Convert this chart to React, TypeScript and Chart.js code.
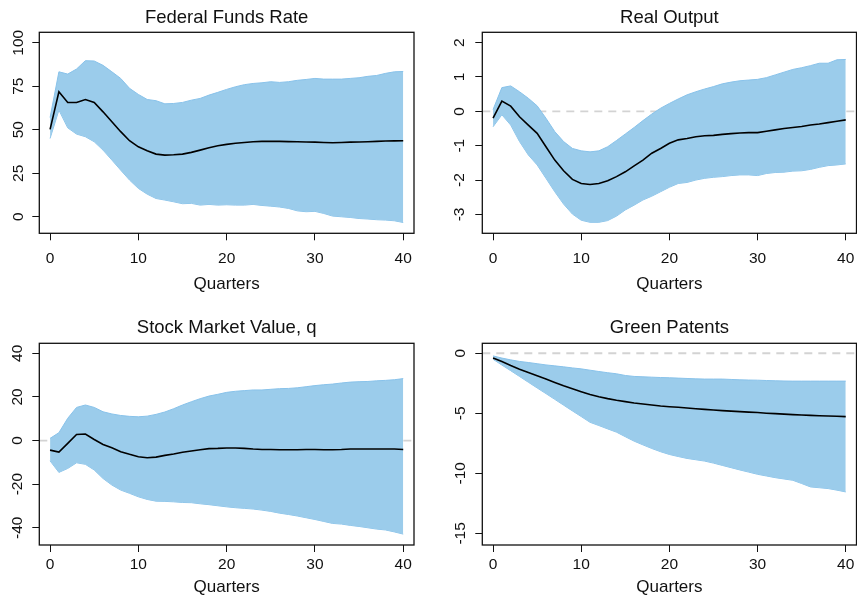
import React, { useEffect, useRef } from "react";
import { Chart, registerables } from "chart.js";

Chart.register(...registerables);

const QUARTERS = [0, 1, 2, 3, 4, 5, 6, 7, 8, 9, 10, 11, 12, 13, 14, 15, 16, 17, 18, 19, 20, 21, 22, 23, 24, 25, 26, 27, 28, 29, 30, 31, 32, 33, 34, 35, 36, 37, 38, 39, 40];
const X_TICKS = [0, 10, 20, 30, 40];

const FFR_MEDIAN = [50.2, 71.8, 65.7, 65.7, 67.4, 65.7, 60.3, 54.6, 48.9, 43.7, 40.2, 37.9, 36.0, 35.4, 35.6, 36.0, 37.0, 38.3, 39.7, 40.8, 41.6, 42.2, 42.7, 43.1, 43.3, 43.3, 43.3, 43.2, 43.1, 43.0, 42.9, 42.7, 42.5, 42.7, 42.9, 43.0, 43.1, 43.3, 43.5, 43.6, 43.7];
const FFR_UPPER = [57.0, 83.3, 82.0, 84.9, 89.7, 89.5, 87.0, 83.3, 79.5, 73.8, 70.3, 67.4, 66.7, 64.9, 65.1, 65.7, 67.0, 68.0, 69.9, 71.5, 73.2, 74.7, 75.9, 76.6, 77.0, 77.6, 77.2, 77.6, 78.4, 78.9, 79.5, 79.1, 79.1, 79.1, 79.5, 79.9, 80.7, 81.2, 82.4, 83.3, 83.5];
const FFR_LOWER = [45.0, 61.3, 51.1, 47.5, 46.0, 43.1, 38.3, 32.6, 26.8, 21.1, 16.3, 13.0, 10.5, 9.6, 8.6, 7.5, 7.7, 6.7, 7.1, 6.7, 6.9, 6.7, 6.7, 7.1, 6.5, 6.1, 5.6, 4.8, 3.4, 2.9, 3.1, 1.9, 0.4, 0.0, -0.4, -1.0, -1.3, -1.7, -1.9, -2.3, -3.3];
const FFR_TICKS = [0, 25, 50, 75, 100];

const OUT_MEDIAN = [-0.2, 0.3, 0.15, -0.16, -0.4, -0.64, -1.03, -1.42, -1.73, -1.98, -2.1, -2.13, -2.1, -2.02, -1.9, -1.76, -1.59, -1.42, -1.22, -1.08, -0.93, -0.83, -0.79, -0.74, -0.71, -0.7, -0.67, -0.65, -0.63, -0.62, -0.62, -0.58, -0.54, -0.5, -0.47, -0.44, -0.4, -0.37, -0.33, -0.29, -0.25];
const OUT_UPPER = [0.05, 0.69, 0.74, 0.57, 0.38, 0.16, -0.2, -0.59, -0.88, -1.08, -1.15, -1.18, -1.15, -1.03, -0.85, -0.66, -0.47, -0.27, -0.08, 0.09, 0.23, 0.36, 0.48, 0.57, 0.65, 0.72, 0.8, 0.85, 0.89, 0.91, 0.93, 0.98, 1.06, 1.14, 1.22, 1.27, 1.33, 1.4, 1.4, 1.5, 1.51];
const OUT_LOWER = [-0.45, -0.1, -0.4, -0.88, -1.27, -1.56, -1.95, -2.34, -2.7, -2.99, -3.17, -3.23, -3.23, -3.18, -3.05, -2.87, -2.73, -2.58, -2.47, -2.34, -2.21, -2.1, -2.07, -2.0, -1.95, -1.92, -1.9, -1.87, -1.85, -1.85, -1.87, -1.81, -1.78, -1.77, -1.74, -1.73, -1.69, -1.63, -1.58, -1.56, -1.53];
const OUT_TICKS = [-3, -2, -1, 0, 1, 2];

const STOCK_MEDIAN = [-4.4, -5.3, -1.3, 2.8, 3.0, 0.5, -1.8, -3.3, -5.1, -6.3, -7.4, -7.9, -7.6, -6.8, -6.2, -5.4, -4.8, -4.2, -3.7, -3.6, -3.4, -3.4, -3.6, -3.9, -4.1, -4.1, -4.2, -4.2, -4.2, -4.1, -4.1, -4.2, -4.2, -4.1, -3.9, -3.9, -3.9, -3.9, -3.9, -3.9, -4.1];
const STOCK_UPPER = [1.0, 3.6, 10.2, 15.2, 16.3, 15.2, 13.2, 12.2, 11.5, 11.1, 10.9, 11.2, 12.0, 13.1, 14.6, 16.3, 17.8, 19.2, 20.4, 21.2, 22.1, 22.6, 22.9, 23.2, 23.2, 23.5, 23.8, 23.9, 24.2, 24.7, 25.2, 25.6, 25.9, 26.4, 26.8, 27.0, 27.1, 27.4, 27.6, 27.9, 28.4];
const STOCK_LOWER = [-9.3, -14.6, -12.8, -10.2, -10.9, -13.5, -17.4, -20.4, -22.7, -24.2, -25.8, -27.0, -27.8, -27.9, -28.1, -28.4, -28.5, -29.0, -29.4, -29.9, -30.4, -30.8, -31.1, -31.4, -31.9, -32.5, -33.3, -33.9, -34.6, -35.4, -36.2, -37.1, -38.0, -38.3, -38.9, -39.4, -40.0, -40.6, -41.0, -41.9, -42.9];
const STOCK_TICKS = [-40, -20, 0, 20, 40];

const PAT_MEDIAN = [-0.4, -0.69, -1.02, -1.33, -1.6, -1.88, -2.15, -2.43, -2.71, -2.96, -3.2, -3.43, -3.62, -3.78, -3.92, -4.03, -4.14, -4.23, -4.31, -4.39, -4.45, -4.5, -4.56, -4.62, -4.67, -4.73, -4.78, -4.82, -4.86, -4.9, -4.94, -4.99, -5.03, -5.07, -5.11, -5.14, -5.17, -5.2, -5.22, -5.25, -5.28];
const PAT_UPPER = [-0.22, -0.4, -0.55, -0.68, -0.77, -0.87, -0.97, -1.05, -1.13, -1.22, -1.3, -1.41, -1.52, -1.62, -1.71, -1.85, -1.93, -1.96, -1.99, -2.02, -2.04, -2.07, -2.1, -2.13, -2.15, -2.15, -2.15, -2.18, -2.21, -2.23, -2.24, -2.27, -2.29, -2.31, -2.32, -2.32, -2.32, -2.32, -2.32, -2.32, -2.32];
const PAT_LOWER = [-0.5, -0.98, -1.45, -1.93, -2.41, -2.89, -3.36, -3.84, -4.32, -4.8, -5.27, -5.75, -6.02, -6.3, -6.57, -6.95, -7.32, -7.63, -7.93, -8.2, -8.43, -8.6, -8.76, -8.87, -8.98, -9.15, -9.34, -9.53, -9.72, -9.9, -10.08, -10.22, -10.36, -10.47, -10.58, -10.85, -11.13, -11.2, -11.27, -11.4, -11.55];
const PAT_TICKS = [-15, -10, -5, 0];

const FONT = "'Liberation Sans', Arial, Helvetica, sans-serif";
const INK = "#111111";
const BAND_FILL = "#9BCCEB";
const BAND_EDGE = "#88C2EA";
const TICK_SIZE = 15.5;
const LABEL_SIZE = 17;
const TITLE_SIZE = 18.5;
const X_MIN = -1.22;
const X_MAX = 41.22;

type Spec = {
  title: string;
  median: number[];
  upper: number[];
  lower: number[];
  yTicks: number[];
  yMin: number;
  yMax: number;
  zero: boolean;
  left: number;
  top: number;
  width: number;
  height: number;
  area: { left: number; top: number; right: number; bottom: number };
  yTickPad: number;
  xTickPad: number;
  xTitlePad: number;
  titleBaseline: number;
};

const PANELS: Spec[] = [
  {
    title: "Federal Funds Rate", median: FFR_MEDIAN, upper: FFR_UPPER, lower: FFR_LOWER,
    yTicks: FFR_TICKS, yMin: -9.5, yMax: 106, zero: false,
    left: 0, top: 0, width: 428, height: 300,
    area: { left: 39.3, top: 32.3, right: 414, bottom: 233.3 },
    yTickPad: 1.1, xTickPad: 9.2, xTitlePad: 5.6, titleBaseline: 22.7,
  },
  {
    title: "Real Output", median: OUT_MEDIAN, upper: OUT_UPPER, lower: OUT_LOWER,
    yTicks: OUT_TICKS, yMin: -3.55, yMax: 2.3, zero: true,
    left: 428, top: 0, width: 429, height: 300,
    area: { left: 54.3, top: 32.3, right: 428.5, bottom: 233.3 },
    yTickPad: 8.4, xTickPad: 9.2, xTitlePad: 5.6, titleBaseline: 22.7,
  },
  {
    title: "Stock Market Value, q", median: STOCK_MEDIAN, upper: STOCK_UPPER, lower: STOCK_LOWER,
    yTicks: STOCK_TICKS, yMin: -47.9, yMax: 44.6, zero: true,
    left: 0, top: 300, width: 428, height: 298,
    area: { left: 39.3, top: 43.3, right: 414, bottom: 245 },
    yTickPad: 3.6, xTickPad: 3.7, xTitlePad: 0.3, titleBaseline: 33.3,
  },
  {
    title: "Green Patents", median: PAT_MEDIAN, upper: PAT_UPPER, lower: PAT_LOWER,
    yTicks: PAT_TICKS, yMin: -15.97, yMax: 0.83, zero: true,
    left: 428, top: 300, width: 429, height: 298,
    area: { left: 54.3, top: 43.3, right: 428.5, bottom: 245 },
    yTickPad: 3.8, xTickPad: 3.7, xTitlePad: 0.3, titleBaseline: 33.3,
  },
];

function Panel({ spec }: { spec: Spec }) {
  const ref = useRef<HTMLCanvasElement>(null);
  useEffect(() => {
    const canvas = ref.current;
    if (!canvas) return;
    const a = spec.area;
    const pts = (ys: number[]) => ys.map((y, i) => ({ x: QUARTERS[i], y }));

    const zeroPlugin = {
      id: "zeroLine",
      beforeDatasetsDraw(chart: any) {
        if (!spec.zero) return;
        const { ctx, chartArea } = chart;
        const y = chart.scales.y.getPixelForValue(0);
        ctx.save();
        ctx.strokeStyle = "#D3D3D3";
        ctx.lineWidth = 1.8;
        ctx.setLineDash([8, 6]);
        ctx.beginPath();
        ctx.moveTo(chartArea.left, y);
        ctx.lineTo(chartArea.right, y);
        ctx.stroke();
        ctx.restore();
      },
    };
    const framePlugin = {
      id: "frameAndTitle",
      afterDraw(chart: any) {
        const { ctx, chartArea } = chart;
        ctx.save();
        ctx.strokeStyle = INK;
        ctx.lineWidth = 1.3;
        ctx.strokeRect(chartArea.left, chartArea.top, chartArea.right - chartArea.left, chartArea.bottom - chartArea.top);
        ctx.fillStyle = INK;
        ctx.font = `${TITLE_SIZE}px ${FONT}`;
        ctx.textAlign = "center";
        ctx.textBaseline = "alphabetic";
        ctx.fillText(spec.title, (chartArea.left + chartArea.right) / 2, spec.titleBaseline);
        ctx.restore();
      },
    };

    const chart = new Chart(canvas, {
      type: "line",
      data: {
        datasets: [
          { label: "lower", data: pts(spec.lower), borderColor: BAND_EDGE, borderWidth: 1, backgroundColor: BAND_FILL, pointRadius: 0, fill: false, tension: 0, order: 2 },
          { label: "upper", data: pts(spec.upper), borderColor: BAND_EDGE, borderWidth: 1, backgroundColor: BAND_FILL, pointRadius: 0, fill: "-1", tension: 0, order: 1 },
          { label: "median", data: pts(spec.median), borderColor: "#000000", borderWidth: 1.6, pointRadius: 0, fill: false, tension: 0, order: 0 },
        ],
      },
      options: {
        animation: false,
        responsive: false,
        events: [],
        layout: { padding: { left: 0, top: a.top, right: spec.width - a.right, bottom: 0 } },
        plugins: { legend: { display: false }, tooltip: { enabled: false }, title: { display: false } },
        scales: {
          x: {
            type: "linear",
            min: X_MIN,
            max: X_MAX,
            afterBuildTicks: (s: any) => { s.ticks = X_TICKS.map((v) => ({ value: v })); },
            afterFit: (s: any) => {
              s.height = spec.height - a.bottom;
              s.paddingLeft = 0;
              s.paddingRight = 0;
            },
            grid: { display: true, drawOnChartArea: false, drawTicks: true, tickLength: 7, color: INK, lineWidth: 1 },
            border: { display: false },
            ticks: { font: { family: FONT, size: TICK_SIZE }, color: INK, padding: spec.xTickPad, maxRotation: 0, minRotation: 0, autoSkip: false, callback: (v: any) => String(v) },
            title: { display: true, text: "Quarters", font: { family: FONT, size: LABEL_SIZE }, color: INK, padding: { top: 0, bottom: spec.xTitlePad } },
          },
          y: {
            type: "linear",
            min: spec.yMin,
            max: spec.yMax,
            afterBuildTicks: (s: any) => { s.ticks = spec.yTicks.map((v) => ({ value: v })); },
            afterFit: (s: any) => {
              s.width = a.left;
              s.paddingTop = 0;
              s.paddingBottom = 0;
            },
            grid: { display: true, drawOnChartArea: false, drawTicks: true, tickLength: 7, color: INK, lineWidth: 1 },
            border: { display: false },
            ticks: { font: { family: FONT, size: TICK_SIZE }, color: INK, padding: spec.yTickPad, minRotation: 90, maxRotation: 90, crossAlign: "center", autoSkip: false, callback: (v: any) => String(v) },
          },
        },
      } as any,
      plugins: [zeroPlugin, framePlugin],
    });
    return () => chart.destroy();
  }, [spec]);

  return (
    <canvas
      ref={ref}
      width={spec.width}
      height={spec.height}
      style={{ position: "absolute", left: spec.left, top: spec.top, width: spec.width, height: spec.height, display: "block" }}
    />
  );
}

export default function App() {
  return (
    <div style={{ position: "absolute", left: 0, top: 0, width: 857, height: 598, background: "#ffffff", overflow: "hidden" }}>
      {PANELS.map((p) => (
        <Panel key={p.title} spec={p} />
      ))}
    </div>
  );
}
